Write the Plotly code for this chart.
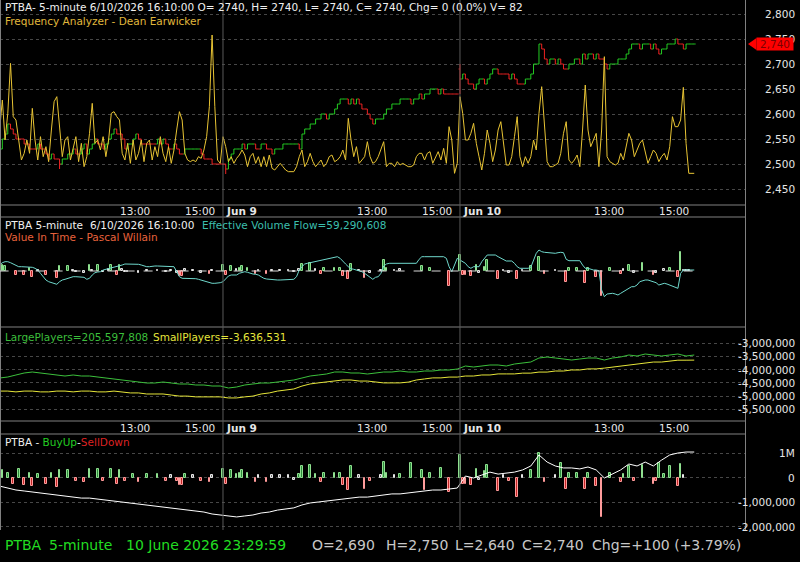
import pandas as pd
import plotly.graph_objects as go

# ---------------- session / time axis ----------------
SESSION_DAYS = ["2026-06-08", "2026-06-09", "2026-06-10"]
SESSION_OPEN, SESSION_CLOSE = "09:00", "16:10"
FIRST_VISIBLE_BAR = "2026-06-08 09:25"
TIME_TICKS = ["13:00", "15:00"]

# ---------------- pane 1: price (closes per 5-minute bar) ----------------
CLOSE_JUN8 = [2530, 2550, 2560, 2580, 2570, 2560, 2550, 2550, 2550, 2540,
              2540, 2530, 2530, 2530, 2540, 2530, 2530, 2520, 2510, 2520,
              2510, 2510, 2500, 2510, 2510, 2520, 2520, 2530, 2520, 2520,
              2530, 2540, 2520, 2530, 2540, 2550, 2540, 2540, 2530, 2540,
              2550, 2560, 2570, 2560, 2560, 2550, 2530, 2540, 2540, 2550,
              2560, 2550, 2540, 2540, 2540, 2540, 2540, 2540, 2550, 2540,
              2550, 2540, 2530, 2530, 2540, 2530, 2520, 2520, 2530, 2530,
              2530, 2530, 2530, 2530, 2520, 2510, 2510, 2510, 2500, 2500,
              2500, 2500]
CLOSE_JUN9 = [2500, 2490, 2510, 2520, 2530, 2530, 2530, 2540, 2530, 2540,
              2540, 2540, 2530, 2530, 2540, 2540, 2530, 2530, 2520, 2530,
              2530, 2530, 2540, 2540, 2540, 2540, 2540, 2540, 2530, 2560,
              2570, 2570, 2580, 2580, 2590, 2590, 2600, 2600, 2590, 2600,
              2600, 2610, 2620, 2630, 2630, 2630, 2620, 2630, 2620, 2630,
              2620, 2610, 2610, 2600, 2590, 2580, 2590, 2590, 2590, 2600,
              2610, 2610, 2620, 2620, 2620, 2630, 2630, 2630, 2630, 2620,
              2630, 2630, 2640, 2630, 2640, 2640, 2650, 2650, 2650, 2640,
              2650, 2640, 2640, 2640, 2640, 2640, 2640]
CLOSE_JUN10 = [2670, 2680, 2670, 2660, 2660, 2650, 2660, 2670, 2670, 2660,
               2670, 2680, 2690, 2690, 2680, 2680, 2680, 2680, 2670, 2680,
               2670, 2660, 2660, 2660, 2670, 2670, 2680, 2700, 2700, 2740,
               2730, 2710, 2700, 2710, 2710, 2700, 2710, 2700, 2690, 2690,
               2700, 2700, 2710, 2710, 2700, 2720, 2710, 2720, 2720, 2710,
               2720, 2710, 2710, 2700, 2690, 2700, 2700, 2700, 2710, 2710,
               2710, 2720, 2730, 2740, 2740, 2740, 2730, 2740, 2740, 2740,
               2730, 2740, 2730, 2720, 2730, 2730, 2740, 2740, 2740, 2750,
               2740, 2740, 2730, 2740, 2740, 2740, 2740]
FIRST_OPEN = 2520
OPEN_OVERRIDES = {174: 2690}                       # Jun 10 session open
RANGE_OVERRIDES = {27: (2510, 2490), 88: (2500, 2480), 174: (2700, 2640)}

# Frequency Analyzer (own scale)
FA_JUN8 = [150, 240, 120, 200, 350, 190, 180, 120, 60, 80,
           120, 80, 215, 120, 60, 130, 70, 100, 55, 150,
           235, 250, 160, 70, 120, 130, 60, 95, 130, 55,
           110, 40, 70, 140, 230, 110, 120, 90, 130, 70,
           120, 200, 205, 190, 180, 80, 60, 110, 50, 120,
           60, 80, 120, 55, 110, 120, 60, 100, 70, 130,
           80, 55, 100, 50, 90, 150, 205, 180, 80, 60,
           55, 60, 55, 70, 65, 90, 130, 220, 435, 220,
           60, 50]
FA_JUN9 = [130, 100, 55, 70, 50, 65, 75, 90, 75, 40,
           70, 80, 50, 70, 40, 70, 40, 75, 35, 30,
           40, 50, 40, 30, 25, 25, 25, 40, 70, 90,
           40, 55, 80, 55, 40, 50, 60, 40, 50, 70,
           75, 55, 60, 70, 90, 60, 185, 120, 70, 100,
           50, 60, 70, 115, 70, 50, 55, 70, 90, 115,
           40, 50, 50, 40, 55, 45, 50, 45, 40, 40,
           45, 70, 80, 80, 60, 80, 85, 50, 70, 85,
           60, 95, 50, 160, 120, 20, 50]
FA_JUN10 = [250, 200, 120, 120, 140, 170, 110, 70, 30, 80,
            150, 110, 55, 90, 150, 175, 100, 45, 45, 70,
            130, 190, 70, 40, 70, 50, 70, 120, 90, 200,
            280, 150, 55, 40, 40, 45, 50, 80, 140, 175,
            60, 50, 60, 75, 40, 150, 285, 150, 100, 120,
            140, 40, 150, 370, 70, 55, 50, 45, 50, 80,
            60, 100, 140, 120, 70, 90, 110, 120, 80, 50,
            70, 90, 80, 55, 70, 80, 60, 100, 190, 160,
            160, 180, 278, 110, 20, 20, 20]

# ---------------- pane 2: Effective Volume Flow (millions) + Value In Time ----------------
EVF_JUN8 = [64.3, 66.6, 67.6, 67.6, 66.6, 65.3, 63.3, 62.6, 62.6, 62.6,
            62.0, 62.6, 62.0, 61.0, 59.3, 56.0, 52.6, 49.3, 47.6, 46.6,
            46.0, 45.0, 47.6, 49.3, 50.0, 51.0, 52.0, 52.6, 52.6, 52.6,
            52.6, 52.0, 50.0, 51.0, 54.3, 56.6, 57.3, 57.6, 59.3, 60.0,
            61.0, 61.0, 62.0, 62.6, 63.3, 64.3, 65.3, 65.3, 65.3, 65.3,
            65.3, 65.0, 64.3, 63.3, 62.6, 62.6, 63.3, 63.3, 63.3, 63.3,
            63.3, 63.3, 62.6, 62.6, 62.6, 57.6, 52.6, 51.0, 51.0, 51.0,
            51.0, 51.0, 50.6, 50.0, 49.3, 48.6, 47.6, 46.6, 46.0, 46.0,
            46.0, 46.6]
EVF_JUN9 = [47.6, 51.0, 53.3, 54.3, 54.3, 54.3, 56.0, 57.0, 57.6, 57.0,
            56.0, 55.3, 55.0, 54.3, 52.6, 51.0, 50.3, 50.0, 49.3, 49.3,
            49.3, 49.3, 49.3, 49.3, 49.3, 50.0, 50.0, 52.6, 59.3, 62.6,
            65.3, 66.0, 66.6, 67.3, 67.6, 68.3, 68.6, 69.3, 70.0, 70.6,
            71.3, 72.0, 72.6, 71.0, 68.6, 65.3, 62.6, 60.6, 60.0, 59.3,
            58.6, 57.6, 56.0, 54.3, 52.0, 50.0, 52.0, 52.6, 56.0, 63.3,
            65.3, 66.0, 66.0, 66.0, 66.0, 66.0, 66.0, 66.0, 66.0, 66.0,
            66.0, 66.0, 70.0, 72.6, 72.6, 72.6, 72.6, 72.6, 72.6, 72.6,
            72.6, 72.6, 71.0, 62.6, 57.6, 64.3, 71.0]
EVF_JUN10 = [69.3, 67.6, 66.0, 62.6, 61.0, 62.6, 62.6, 62.6, 67.6, 71.0,
             74.3, 74.3, 74.3, 74.3, 72.6, 71.0, 69.3, 68.3, 68.3, 68.3,
             66.0, 62.6, 61.0, 61.0, 61.0, 61.0, 62.0, 69.3, 76.0, 79.3,
             77.6, 77.0, 76.6, 76.6, 76.0, 76.0, 76.6, 77.0, 76.6, 70.0,
             68.6, 68.6, 68.6, 68.6, 68.6, 64.3, 61.0, 61.0, 60.0, 59.3,
             59.3, 58.6, 39.3, 32.6, 35.3, 36.0, 36.0, 35.3, 34.3, 36.0,
             37.6, 39.3, 41.0, 42.6, 42.6, 44.3, 47.6, 48.6, 49.3, 49.3,
             48.6, 47.6, 46.6, 44.3, 45.3, 46.0, 45.3, 44.3, 43.3, 42.6,
             41.0, 56.0, 59.3, 59.3, 59.3, 59.3, 59.29]
# Value In Time histogram, keyed by session bar number (Jun 8 09:00 = 0)
VIT_BARS = {6: 6, 7: 5, 11: -4, 14: -4, 16: 3, 17: -6, 19: 1, 22: -4, 26: -7, 27: 5,
            30: 5, 32: 1, 33: -1, 36: -2, 38: 6, 39: 1, 41: 6, 43: -1, 45: 2, 46: 6,
            48: -4, 49: 6, 50: 2, 51: -1, 52: -1, 56: -2, 59: 1, 63: 1, 66: -1, 68: 1,
            70: -2, 71: -5, 72: -5, 73: 2, 76: 1, 79: -2, 82: -3, 83: 1, 87: 6, 88: -4,
            90: 5, 92: 2, 93: 3, 94: 5, 96: 3, 99: -3, 100: 1, 103: -3, 105: 1, 108: 1,
            111: 1, 113: -1, 115: 2, 116: 7, 119: 8, 121: 2, 123: -3, 124: 3, 128: 3, 130: 3,
            131: -5, 133: -8, 134: 7, 137: 1, 139: -7, 141: -2, 145: 1, 146: 11, 147: 3, 150: 1,
            152: 2, 160: 5, 163: 3, 170: -15, 174: 16, 175: -4, 176: -4, 178: -5, 180: 6, 181: -2,
            183: 4, 184: 11, 188: -8, 190: 1, 192: -2, 195: -8, 197: 1, 200: 5, 203: 14, 205: -3,
            209: 1, 213: -11, 214: 3, 217: 3, 220: -12, 221: 3, 224: -6, 226: -25, 229: 3, 233: -3,
            234: 2, 236: 6, 238: -2, 241: 8, 245: -4, 246: -2, 249: 2, 251: 3, 254: -6, 255: 19,
            256: 1, 257: 1, 258: 1}

# ---------------- pane 3: players (sampled every 3 bars, millions) ----------------
LARGE_PLAYERS = [182.6, 183.6, 185.6, 187.6, 188.6, 187.6, 186.6, 185.6, 184.6, 185.6,
                 184.6, 184.6, 183.6, 182.6, 181.6, 180.6, 179.6, 178.6, 177.6, 177.6,
                 178.6, 177.6, 176.6, 176.6, 175.6, 175.6, 174.6, 174.6, 172.6, 173.6,
                 175.6, 176.6, 177.6, 177.6, 178.6, 179.6, 180.6, 182.6, 184.6, 185.6,
                 186.6, 188.6, 188.6, 187.6, 187.6, 186.6, 187.6, 188.6, 188.6, 189.6,
                 188.6, 188.6, 189.6, 189.6, 190.6, 190.6, 191.6, 194.6, 193.6, 194.6,
                 195.6, 195.6, 194.6, 196.6, 197.6, 198.6, 202.6, 203.6, 202.6, 201.6,
                 200.6, 201.6, 202.6, 202.6, 200.6, 202.6, 203.6, 205.6, 204.6, 206.6,
                 205.6, 204.6, 205.6, 206.6, 204.6, 205.598]
SMALL_PLAYERS = [-4.81, -4.81, -4.84, -4.81, -4.81, -4.84, -4.84, -4.81, -4.81, -4.84,
                 -4.81, -4.81, -4.84, -4.84, -4.81, -4.84, -4.88, -4.88, -4.92, -4.92,
                 -4.92, -4.96, -5.00, -5.00, -5.03, -5.03, -5.03, -5.03, -5.07, -5.07,
                 -5.03, -5.00, -4.92, -4.88, -4.81, -4.77, -4.73, -4.62, -4.54, -4.50,
                 -4.47, -4.43, -4.39, -4.39, -4.43, -4.43, -4.47, -4.50, -4.50, -4.50,
                 -4.47, -4.39, -4.35, -4.31, -4.31, -4.28, -4.28, -4.24, -4.24, -4.20,
                 -4.20, -4.16, -4.16, -4.16, -4.13, -4.13, -4.09, -4.09, -4.05, -4.05,
                 -4.01, -4.01, -3.97, -3.97, -3.94, -3.90, -3.86, -3.82, -3.78, -3.75,
                 -3.71, -3.71, -3.67, -3.64, -3.64, -3.637]

# ---------------- pane 4: BuyUp-SellDown ----------------
BUYSELL_BARS = {6: 0.30, 8: 0.20, 10: -0.25, 12: 0.35, 14: -0.30, 16: 0.20, 17: -0.35, 19: 0.15,
                22: -0.25, 24: 0.20, 26: -0.40, 27: 0.30, 30: 0.30, 33: -0.15, 36: -0.20, 38: 0.35,
                41: 0.35, 43: -0.15, 46: 0.35, 48: -0.25, 49: 0.30, 51: -0.15, 54: 0.15, 56: -0.20,
                59: 0.15, 63: 0.15, 66: -0.15, 68: 0.10, 70: -0.15, 71: -0.30, 72: -0.30, 73: 0.15,
                76: 0.10, 79: -0.15, 82: -0.20, 83: 0.10, 87: 0.35, 88: -0.25, 90: 0.30, 92: 0.15,
                93: 0.20, 94: 0.30, 96: 0.20, 99: -0.20, 100: 0.10, 103: -0.20, 105: 0.10, 108: 0.10,
                111: 0.10, 113: -0.10, 115: 0.15, 116: 0.45, 119: 0.50, 121: 0.15, 123: -0.20, 124: 0.20,
                128: 0.20, 130: 0.20, 131: -0.30, 133: -0.50, 134: 0.45, 137: 0.10, 139: -0.45, 141: -0.15,
                145: 0.10, 146: 0.65, 147: 0.20, 150: 0.10, 152: 0.15, 156: 0.60, 160: 0.30, 161: -0.50,
                163: 0.20, 167: 0.40, 170: -0.60, 174: 0.90, 175: -0.25, 176: -0.25, 178: -0.30, 180: 0.35,
                181: -0.10, 183: 0.25, 184: 0.50, 188: -0.55, 190: 0.10, 192: -0.15, 195: -0.80, 197: 0.10,
                200: 0.30, 203: 1.00, 205: -0.20, 209: 0.10, 211: 0.60, 213: -0.45, 214: 0.20, 217: 0.20,
                220: -0.45, 221: 0.20, 224: -0.35, 226: -1.60, 229: 0.20, 233: -0.20, 234: 0.15, 236: 0.45,
                238: -0.15, 241: 0.50, 245: -0.25, 246: -0.15, 247: 0.60, 249: 0.15, 251: 0.45, 254: -0.35,
                255: 0.55, 256: 0.10}
BUYSELL_LINE = [-3.5, -4.3, -5.1, -5.5, -5.9, -6.3, -6.7, -7.1, -7.6, -8.0,
                -8.4, -8.4, -8.8, -9.2, -9.6, -10.0, -10.4, -10.8, -11.2, -11.6,
                -12.0, -12.4, -12.9, -13.3, -13.7, -14.1, -14.9, -15.3, -15.7, -16.1,
                -15.7, -15.3, -14.5, -14.1, -13.3, -12.9, -12.4, -11.2, -10.4, -10.0,
                -9.6, -9.2, -8.8, -8.4, -8.0, -8.0, -7.6, -7.1, -6.7, -6.7,
                -6.3, -5.9, -5.5, -5.1, -5.1, -4.7, -4.3, 0.6, -0.2, 1.0,
                2.2, 1.4, 1.8, 2.2, 3.1, 4.7, 9.2, 6.3, 4.7, 3.9,
                3.9, 3.5, 4.3, 3.1, -0.2, 1.4, 3.1, 5.5, 4.7, 6.3,
                4.7, 7.1, 9.2, 10.0, 10.4, 10.4]

# ---------------- axis ticks / texts ----------------
PRICE_TICKS = [2450, 2500, 2550, 2600, 2650, 2700, 2750, 2800]
SMALL_TICKS = [-3.0, -3.5, -4.0, -4.5, -5.0, -5.5]
BUYSELL_TICKS = [1, 0, -1, -2]
BUYSELL_TICKTEXT = ["1M", "0", "-1,000,000", "-2,000,000"]

# ================= build =================
times = []
for d in SESSION_DAYS:
    times.extend(pd.date_range(f"{d} {SESSION_OPEN}", f"{d} {SESSION_CLOSE}", freq="5min"))
first_vis = pd.Timestamp(FIRST_VISIBLE_BAR)
X = [s for s, t in enumerate(times) if t >= first_vis]

CLOSE = CLOSE_JUN8 + CLOSE_JUN9 + CLOSE_JUN10
FA = FA_JUN8 + FA_JUN9 + FA_JUN10
EVF = EVF_JUN8 + EVF_JUN9 + EVF_JUN10
assert len(CLOSE) == len(X) == len(FA) == len(EVF)
OPEN = [FIRST_OPEN] + CLOSE[:-1]
for s, v in OPEN_OVERRIDES.items():
    OPEN[X.index(s)] = v
HIGH = [max(o, c) for o, c in zip(OPEN, CLOSE)]
LOW = [min(o, c) for o, c in zip(OPEN, CLOSE)]
for s, (h, l) in RANGE_OVERRIDES.items():
    HIGH[X.index(s)] = h
    LOW[X.index(s)] = l
LINE_X = X[::3]
assert len(LINE_X) == len(LARGE_PLAYERS) == len(SMALL_PLAYERS) == len(BUYSELL_LINE)

tick_slots, tick_text, day_starts = [], [], []
for s, t in enumerate(times):
    if s < X[0]:
        continue
    hm = t.strftime("%H:%M")
    if hm == SESSION_OPEN and s > 0:
        day_starts.append(s)
        tick_slots.append(s)
        tick_text.append(f"<b>{t.strftime('%b')} {t.day}</b>")
    elif hm in TIME_TICKS:
        tick_slots.append(s)
        tick_text.append(hm)

# ---- pixel layout ----
W, H = 800, 562
PW, PH = 746, 530
def yd(py):
    return 1 - py / PH
PANES = {"price": (0, 205), "evf": (217, 327), "players": (327, 421), "bs": (434, 530)}
def dom(name):
    a, b = PANES[name]
    return [yd(b), yd(a)]

PX_PER_BAR = 2.724
X_LEFT = 14 / PX_PER_BAR
X_RIGHT = (PW + 14) / PX_PER_BAR

fig = go.Figure()

fig.add_trace(go.Ohlc(x=X, open=OPEN, high=HIGH, low=LOW, close=CLOSE,
                      xaxis="x", yaxis="y", tickwidth=0.5,
                      increasing=dict(line=dict(color="#22cc22", width=1)),
                      decreasing=dict(line=dict(color="#ee2222", width=1)),
                      hoverinfo="skip"))
fig.add_trace(go.Scatter(x=X, y=FA, xaxis="x", yaxis="y2", mode="lines",
                         line=dict(color="#e8c434", width=1), hoverinfo="skip"))

def hist_colors(v, small):
    if v > small:
        return "#2c8c3c", "#90e090"
    if v < -small:
        return "#c42626", "#ff9c9c"
    return "#707070", "#e8e8e8"

vx = sorted(VIT_BARS)
vy = [VIT_BARS[s] for s in vx]
vc = [hist_colors(v, 2) for v in vy]
fig.add_trace(go.Bar(x=vx, y=vy, xaxis="x", yaxis="y3", width=0.6,
                     marker=dict(color=[c[0] for c in vc],
                                 line=dict(color=[c[1] for c in vc], width=1)),
                     hoverinfo="skip"))
fig.add_trace(go.Scatter(x=X, y=EVF, xaxis="x", yaxis="y4", mode="lines",
                         line=dict(color="#6fd8cc", width=1), hoverinfo="skip"))

fig.add_trace(go.Scatter(x=LINE_X, y=SMALL_PLAYERS, xaxis="x", yaxis="y5", mode="lines",
                         line=dict(color="#e6e63a", width=1), hoverinfo="skip"))
fig.add_trace(go.Scatter(x=LINE_X, y=LARGE_PLAYERS, xaxis="x", yaxis="y6", mode="lines",
                         line=dict(color="#3cc03c", width=1), hoverinfo="skip"))

bx = sorted(BUYSELL_BARS)
by = [BUYSELL_BARS[s] for s in bx]
bc = [hist_colors(v, 0.12) for v in by]
fig.add_trace(go.Bar(x=bx, y=by, xaxis="x", yaxis="y7", width=0.6,
                     marker=dict(color=[c[0] for c in bc],
                                 line=dict(color=[c[1] for c in bc], width=1)),
                     hoverinfo="skip"))
fig.add_trace(go.Scatter(x=LINE_X, y=BUYSELL_LINE, xaxis="x", yaxis="y8", mode="lines",
                         line=dict(color="#ffffff", width=1), hoverinfo="skip"))

GRID = dict(showgrid=True, gridcolor="#474747", griddash="dot", gridwidth=1,
            showticklabels=False, zeroline=False, showline=False, ticks="")
HIDDEN = dict(visible=False, showgrid=False, zeroline=False)

fig.update_layout(
    width=W, height=H, margin=dict(l=0, r=W - PW, t=0, b=H - PH),
    paper_bgcolor="#000000", plot_bgcolor="#000000", showlegend=False,
    font=dict(family="DejaVu Sans", size=10.5, color="#e6e6e6"),
    bargap=0,
    xaxis=dict(range=[X_LEFT, X_RIGHT], visible=False, showgrid=False, zeroline=False,
               rangeslider=dict(visible=False), anchor="y"),
    yaxis=dict(domain=dom("price"), range=[2418, 2828], tickvals=PRICE_TICKS, **GRID),
    yaxis2=dict(overlaying="y", range=[-75, 540], **HIDDEN),
    yaxis3=dict(domain=dom("evf"), range=[-56, 54], **HIDDEN),
    yaxis4=dict(overlaying="y3", range=[2.3, 112.3], **HIDDEN),
    yaxis5=dict(domain=dom("players"), range=[-5.943, -2.383], tickvals=SMALL_TICKS, **GRID),
    yaxis6=dict(overlaying="y5", range=[139.6, 233.6], **HIDDEN),
    yaxis7=dict(domain=dom("bs"), range=[-2.143, 1.776], tickvals=BUYSELL_TICKS, **GRID),
    yaxis8=dict(overlaying="y7", range=[-21.43, 17.76], **HIDDEN),
)

shapes = []
FRAME = "#808080"
for py in (205, 217, 327, 421, 434):
    shapes.append(dict(type="line", xref="paper", yref="paper", x0=0, x1=1,
                       y0=yd(py), y1=yd(py), line=dict(color=FRAME, width=1)))
for px in (0.5, PW - 0.5):
    shapes.append(dict(type="line", xref="paper", yref="paper", x0=px / PW, x1=px / PW,
                       y0=0, y1=1, line=dict(color=FRAME, width=1)))
for s in day_starts:
    shapes.append(dict(type="line", xref="x", yref="paper", x0=s, x1=s, y0=0, y1=1,
                       line=dict(color="#5a5a5a", width=1)))
shapes.append(dict(type="line", xref="x", yref="y3", x0=X[0], x1=X[-1], y0=0, y1=0,
                   line=dict(color="#d8d8d8", width=1, dash="dash")))
last = CLOSE[-1]
shapes.append(dict(type="path", xref="paper", yref="y",
                   path=f"M {748 / PW},{last} L {756.5 / PW},{last + 12} L {756.5 / PW},{last - 12} Z",
                   fillcolor="#ff0000", line=dict(width=0)))

ann = []
def txt(text, px, py, color, size=10.5, anchor="left"):
    ann.append(dict(xref="paper", yref="paper", x=px / PW, y=yd(py), text=text,
                    showarrow=False, xanchor=anchor, yanchor="middle",
                    font=dict(color=color, size=size)))

LABEL_X = 797 / PW
for v in PRICE_TICKS:
    ann.append(dict(xref="paper", yref="y", x=LABEL_X, y=v, text=f"{v:,}", showarrow=False,
                    xanchor="right", yanchor="middle", font=dict(color="#e6e6e6")))
for v in SMALL_TICKS:
    ann.append(dict(xref="paper", yref="y5", x=LABEL_X, y=v, text=f"{int(round(v * 1e6)):,}",
                    showarrow=False, xanchor="right", yanchor="middle", font=dict(color="#e6e6e6")))
for v, t in zip(BUYSELL_TICKS, BUYSELL_TICKTEXT):
    ann.append(dict(xref="paper", yref="y7", x=LABEL_X, y=v, text=t, showarrow=False,
                    xanchor="right", yanchor="middle", font=dict(color="#e6e6e6")))
for strip_py in (211, 427.5):
    for s, t in zip(tick_slots, tick_text):
        ann.append(dict(xref="x", yref="paper", x=s, y=yd(strip_py), text=t, showarrow=False,
                        xanchor="left", yanchor="middle", xshift=1, font=dict(color="#e6e6e6")))

# price tag (covers the lower part of the 2,750 label, as in the reference)
ann.append(dict(xref="paper", yref="y", x=774.5 / PW, y=last, text=f"{last:,}", showarrow=False,
                xanchor="center", yanchor="middle", width=36, height=12, borderpad=0,
                bgcolor="#ff0000", font=dict(color="#7a0000", size=10.5)))

txt("PTBA- 5-minute 6/10/2026 16:10:00 O= 2740, H= 2740, L= 2740, C= 2740, Chg= 0 (0.0%) V= 82",
    3, 7, "#f0f0f0")
txt("Frequency Analyzer - Dean Earwicker", 3, 20.5, "#e0b83c")
txt("PTBA 5-minute", 3, 225, "#f0f0f0")
txt("6/10/2026 16:10:00", 88, 225, "#f0f0f0")
txt("Effective Volume Flow=59,290,608", 200, 225, "#3cbfae")
txt("Value In Time - Pascal Willain", 3, 237, "#e8623c")
txt("LargePlayers=205,597,808", 3, 336.5, "#3cbf3c")
txt("SmallPlayers=-3,636,531", 151, 336.5, "#e6e63c")
txt("PTBA - <span style='color:#22cc22'>BuyUp</span>-<span style='color:#dd2222'>SellDown</span>",
    3, 441.5, "#f0f0f0")

SB = 14
txt("PTBA", 3, 545, "#22dd22", SB)
txt("5-minute", 47, 545, "#22dd22", SB)
txt("10 June 2026 23:29:59", 124, 545, "#22dd22", SB)
for t, px in (("O=2,690", 310), ("H=2,750", 384), ("L=2,640", 453),
              ("C=2,740", 520), ("Chg=+100 (+3.79%)", 590)):
    txt(t, px, 545, "#c8c8c8", SB)

fig.update_layout(shapes=shapes, annotations=ann)
fig.write_html("out.html", config={"displayModeBar": False})
